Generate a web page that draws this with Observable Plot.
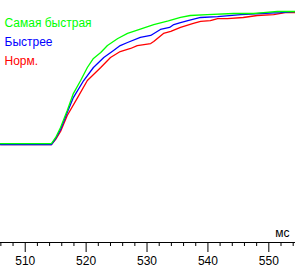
<!DOCTYPE html>
<html><head><meta charset="utf-8">
<script src="https://cdn.jsdelivr.net/npm/d3@7"></script>
<script src="https://cdn.jsdelivr.net/npm/@observablehq/plot@0.6"></script>
<style>html,body{margin:0;padding:0;background:#fff}svg{display:block}</style>
</head><body><div id="chart"></div>
<script>
// Series names and colours
const seriesNames = ["Самая быстрая", "Быстрее", "Норм."];
const seriesColors = ["#00ff00", "#0000ff", "#ff0000"];

// Time (ms) and relative level for each series
const fastestT = [505.9,514.3,515.0,515.8,516.9,517.9,519.1,520.2,521.2,522.4,523.5,525.2,526.8,528.9,531.1,533.5,535.5,537.1,539.9,544.2,547.5,549.1,551.4,554.4];
const fastestV = [0.7,0.7,5.3,12.8,25.6,38.3,48.1,57.9,64.7,69.2,74.4,79.7,83.5,86.8,90.2,92.9,95.5,97.0,97.7,98.5,98.5,99.2,100,100];

const fasterT = [505.9,514.3,515.0,515.8,516.9,517.9,519.6,521.2,522.9,524.5,525.6,526.8,528.9,530.6,532.2,533.7,534.4,535.5,536.7,538.8,541.6,545.4,548.6,551.9,554.4];
const fasterV = [0,0,4.5,11.3,24.1,35.3,48.1,57.9,65.4,70.7,74.4,76.7,80.5,82.0,86.5,88.0,90.2,91.7,93.2,95.5,96.2,97.7,98.5,99.2,100];

const normalT = [505.9,514.3,515.0,515.8,516.9,518.6,520.2,522.4,524.0,525.6,527.3,528.4,530.6,531.1,531.7,532.7,533.9,535.5,537.6,538.8,540.4,541.6,543.2,545.8,548.1,550.8,552.7,554.4];
const normalV = [0,0,3.8,9.8,21.8,35.3,48.1,57.9,65.4,69.9,72.2,74.4,75.9,77.4,79.7,83.5,85.0,88.0,91.0,92.5,93.2,94.7,94.7,95.5,97.0,97.7,99.2,99.2];

// Axis ticks
const majorTicks = [510, 520, 530, 540, 550];
const minorTicks = [506,508,512,514,516,518,522,524,526,528,532,534,536,538,542,544,546,548,552,554];
const unitLabel = "мс";

const toRows = (T, V, s) => T.map((t, i) => ({t, v: V[i], s}));
const rows = [
  ...toRows(normalT, normalV, seriesNames[2]),
  ...toRows(fasterT, fasterV, seriesNames[1]),
  ...toRows(fastestT, fastestV, seriesNames[0])
];

const font = "'Liberation Sans', Arial, sans-serif";
const legendDy = [18, 37, 56];

const chart = Plot.plot({
  width: 295,
  height: 270,
  marginLeft: 0,
  marginRight: 0,
  marginTop: 0,
  marginBottom: 28,
  style: {fontFamily: font, fontSize: "12px", background: "#fff", color: "#000"},
  x: {domain: [505.94, 554.38]},
  y: {domain: [0, 100], range: [144, 11], axis: null},
  color: {domain: seriesNames, range: seriesColors},
  marks: [
    Plot.frame({anchor: "bottom", stroke: "#000"}),
    Plot.axisX(minorTicks, {tickSize: 4, tickFormat: () => "", label: null, stroke: "#000"}),
    Plot.axisX(majorTicks, {tickSize: 10, tickPadding: 4, label: null, stroke: "#000", fill: "#000", fontSize: 12}),
    Plot.line(rows, {x: "t", y: "v", z: "s", stroke: "s", strokeWidth: 1.3}),
    ...seriesNames.map((name, i) => Plot.text([name], {
      frameAnchor: "top-left", text: d => d, fill: seriesColors[i],
      textAnchor: "start", lineAnchor: "top", dx: 4, dy: legendDy[i], fontSize: 12
    })),
    Plot.text([unitLabel], {frameAnchor: "bottom-right", text: d => d, textAnchor: "end", lineAnchor: "bottom", dx: -6, dy: -6, fontSize: 12, fill: "#000"})
  ]
});
document.getElementById("chart").appendChild(chart);
</script>
</body></html>
